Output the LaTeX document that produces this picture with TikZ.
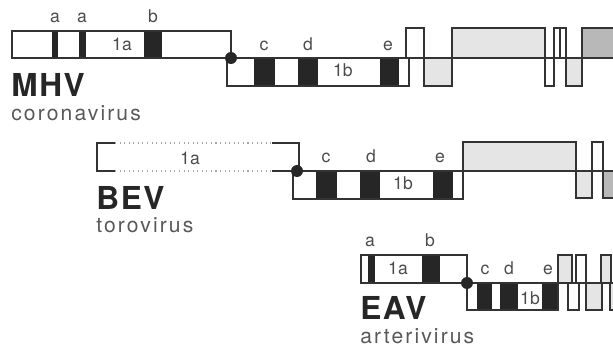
\documentclass[tikz,border=0pt]{standalone}
\usepackage{fontspec}
\setmainfont{TeX Gyre Heros}
\newfontfamily\virusfont[LetterSpace=5]{TeX Gyre Heros}
\newfontfamily\familyfont[LetterSpace=10]{TeX Gyre Heros}
\usetikzlibrary{positioning}
\tikzstyle{orf} = [draw=black!80, 
line width=0.6pt, 
fill=white]
\tikzstyle{dotorf} = [orf, 
fill=black!10]
\tikzstyle{hatchorf} = [orf, 
fill=black!28]
\tikzstyle{motif} = [fill=black!85]
\tikzstyle{genome} = [draw=black!80, line width=0.6pt]
\tikzstyle{gap} = [draw=black!35, line width=0.6pt, dotted]
\tikzstyle{frameshift} = [fill=black!85]
\tikzstyle{site} = [anchor=base, 
inner sep=0pt, 
text=black!70, 
font=\fontsize{10}{11}\selectfont]
\tikzstyle{virus} = [anchor=base west, 
inner sep=0pt, 
text=black!85, 
font=\virusfont\bfseries\fontsize{18}{19}\selectfont]
\tikzstyle{family} = [anchor=base west, 
inner sep=0pt, 
text=black!65, 
font=\familyfont\fontsize{12}{13}\selectfont]

\begin{document}
\begin{tikzpicture}[x=0.02cm, y=-0.02cm]
	\useasboundingbox (0,0) rectangle (613,348);
	\clip (0,0) rectangle (613,348);
	% MHV
	\coordinate (mhvfs) at (231,58);
	\draw [genome] (409,58) -- (620,58);
	\filldraw [orf] (12,31) rectangle (231,58);
	\fill [motif] (52,31) rectangle (58,58);
	\fill [motif] (79,31) rectangle (86,58);
	\fill [motif] (144,31) rectangle (162,58);
	\draw [genome] (12,31) rectangle (231,58);
	\filldraw [orf] (227,58) rectangle (409,86);
	\fill [motif] (254,58) rectangle (275,86);
	\fill [motif] (298,58) rectangle (318,86);
	\fill [motif] (380,58) rectangle (399,86);
	\draw [genome] (227,58) rectangle (409,86);
	\filldraw [orf] (406,28) rectangle (424,58);
	\filldraw [dotorf] (424,58) rectangle (452,86);
	\filldraw [dotorf] (452,28) rectangle (545,58);
	\filldraw [orf] (545,58) rectangle (554,86);
	\filldraw [orf] (554,28) rectangle (566,58);
	\draw [genome] (560,28) -- (560,58);
	\filldraw [dotorf] (566,58) rectangle (582,86);
	\filldraw [hatchorf] (582,28) rectangle (625,58);
	\fill [frameshift] (mhvfs) circle [radius=6];
	\node (mhva1) [site] at (55,23) {a};
	\node (mhva2) [site] at (82,23) {a};
	\node (mhvb) [site] at (153,23) {b};
	\node (mhv1a) [site] at (122,51) {1a};
	\node (mhvc) [site] at (264,51) {c};
	\node (mhvd) [site] at (308,51) {d};
	\node (mhve) [site] at (388,51) {e};
	\node (mhv1b) [site] at (343,77) {1b};
	\node (mhv) [virus] at (11,97) {MHV};
	\node (corona) [family, below=0.47cm of mhv.base west, anchor=base west] {coronavirus};
	% BEV
	\coordinate (bevfs) at (297,171);
	\draw [genome] (463,171) -- (620,171);
	\draw [genome] (115,143) -- (97,143) -- (97,171) -- (115,171);
	\draw [gap] (115,143) -- (272,143);
	\draw [gap] (115,171) -- (272,171);
	\draw [genome] (272,143) -- (299,143) -- (299,171);
	\draw [genome] (272,171) -- (bevfs);
	\filldraw [orf] (293,171) rectangle (463,199);
	\fill [motif] (316,171) rectangle (337,199);
	\fill [motif] (360,171) rectangle (380,199);
	\fill [motif] (433,171) rectangle (453,199);
	\draw [genome] (293,171) rectangle (463,199);
	\filldraw [dotorf] (463,142) rectangle (576,171);
	\filldraw [dotorf] (576,171) rectangle (592,198);
	\filldraw [orf] (592,142) rectangle (603,171);
	\filldraw [hatchorf] (603,171) rectangle (625,198);
	\fill [frameshift] (bevfs) circle [radius=6];
	\node (bev1a) [site] at (190,165) {1a};
	\node (bevc) [site] at (326,163) {c};
	\node (bevd) [site] at (371,163) {d};
	\node (beve) [site] at (440,163) {e};
	\node (bev1b) [site] at (403,190) {1b};
	\node (bev) [virus] at (96,210) {BEV};
	\node (toro) [family, below=0.46cm of bev.base west, anchor=base west] {torovirus};
	% EAV
	\coordinate (eavfs) at (467,283);
	\draw [genome] (558,283) -- (620,283);
	\filldraw [orf] (361,255) rectangle (467,283);
	\fill [motif] (368,255) rectangle (375,283);
	\fill [motif] (422,255) rectangle (440,283);
	\draw [genome] (361,255) rectangle (467,283);
	\filldraw [orf] (467,283) rectangle (558,310);
	\fill [motif] (477,283) rectangle (492,310);
	\fill [motif] (500,283) rectangle (518,310);
	\fill [motif] (542,283) rectangle (558,310);
	\draw [genome] (467,283) rectangle (558,310);
	\filldraw [dotorf] (558,255) rectangle (572,283);
	\filldraw [orf] (576,255) rectangle (586,283);
	\filldraw [dotorf] (601,255) rectangle (611,283);
	\filldraw [orf] (568,283) rectangle (579,310);
	\filldraw [dotorf] (586,283) rectangle (602,310);
	\filldraw [dotorf] (610,283) rectangle (625,310);
	\fill [frameshift] (eavfs) circle [radius=6];
	\node (eava) [site] at (370,247) {a};
	\node (eavb) [site] at (430,247) {b};
	\node (eav1a) [site] at (398,275) {1a};
	\node (eavc) [site] at (485,275) {c};
	\node (eavd) [site] at (509,275) {d};
	\node (eave) [site] at (548,275) {e};
	\node (eav1b) [site, fill=white, inner sep=0.5pt] at (530,305) {1b};
	\node (eav) [virus] at (360,320) {EAV};
	\node (arteri) [family, below=0.48cm of eav.base west, anchor=base west] {arterivirus};
\end{tikzpicture}
\end{document}
